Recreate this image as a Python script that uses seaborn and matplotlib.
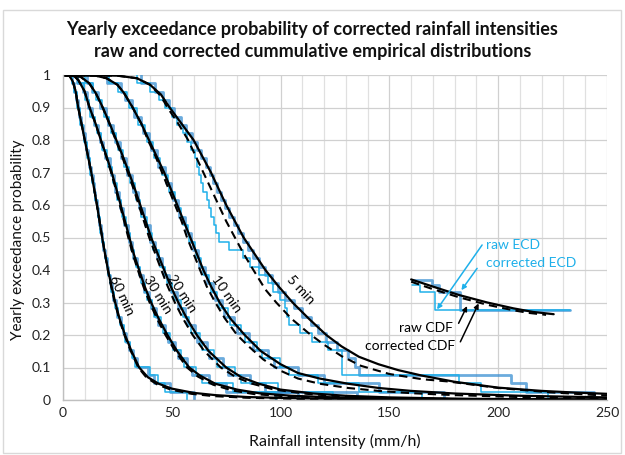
import matplotlib
matplotlib.use("Agg")
import matplotlib.pyplot as plt
import seaborn as sns
from matplotlib.patches import Rectangle
from matplotlib.ticker import MultipleLocator

# ---------------- data ----------------
durations = ["5 min", "10 min", "20 min", "30 min", "60 min"]

# raw CDF (solid) and corrected CDF (dashed): intensity (mm/h) vs exceedance prob.
cdf5_x = [0, 25, 34, 40, 45, 49, 54.5, 60, 64, 68, 71.5, 75, 79, 83, 88, 93, 99, 105.5, 113, 121, 128, 136, 145, 154, 165, 180, 200, 220, 235, 250]
cdf5_y = [1, 0.998, 0.99, 0.97, 0.94, 0.9, 0.85, 0.8, 0.75, 0.7, 0.65, 0.6, 0.55, 0.5, 0.45, 0.4, 0.35, 0.3, 0.25, 0.2, 0.165, 0.133, 0.11, 0.092, 0.075, 0.056, 0.038, 0.028, 0.023, 0.019]
cor5_x = [0, 25, 34, 40, 45, 48, 53, 57.5, 61, 64.5, 68, 71.5, 75, 79, 83, 87.5, 93, 98, 105, 113, 120, 128, 137, 150, 165, 177, 185, 200, 223, 243, 250]
cor5_y = [1, 0.998, 0.99, 0.97, 0.935, 0.9, 0.85, 0.8, 0.75, 0.7, 0.65, 0.6, 0.55, 0.5, 0.45, 0.4, 0.34, 0.3, 0.25, 0.205, 0.17, 0.135, 0.105, 0.08, 0.064, 0.057, 0.05, 0.037, 0.024, 0.016, 0.014]

cdf10_x = [0, 15, 20, 25, 28, 32, 36, 39.5, 43, 46.5, 49.5, 52.5, 55.5, 58.5, 61.5, 64.5, 68, 72, 77, 83.5, 91, 100, 108, 118, 131, 145, 160, 180, 210, 250]
cdf10_y = [1, 0.998, 0.99, 0.97, 0.945, 0.9, 0.85, 0.8, 0.75, 0.7, 0.65, 0.6, 0.55, 0.5, 0.45, 0.4, 0.35, 0.3, 0.25, 0.2, 0.15, 0.11, 0.083, 0.066, 0.05, 0.037, 0.028, 0.02, 0.013, 0.008]
cor10_x = [0, 15, 20, 25, 28, 32, 36, 39, 42.5, 45.5, 48.5, 51.5, 54.5, 57, 60, 63, 66, 70, 74.5, 80, 85.5, 92, 100, 108, 118, 131, 145, 160, 180, 210, 250]
cor10_y = [1, 0.998, 0.99, 0.97, 0.945, 0.9, 0.85, 0.8, 0.75, 0.7, 0.65, 0.6, 0.55, 0.5, 0.45, 0.4, 0.35, 0.3, 0.25, 0.2, 0.164, 0.125, 0.09, 0.066, 0.05, 0.037, 0.028, 0.021, 0.015, 0.009, 0.005]

cdf20_x = [0, 8, 12, 15, 18.3, 21.5, 24.5, 27.5, 30.3, 33, 35.5, 38, 40.5, 43.5, 46.5, 49.5, 53, 57, 61.5, 67, 75, 82, 90, 100, 115, 130, 150, 180, 250]
cdf20_y = [1, 0.995, 0.975, 0.945, 0.9, 0.85, 0.8, 0.75, 0.7, 0.65, 0.6, 0.55, 0.5, 0.45, 0.4, 0.35, 0.3, 0.25, 0.2, 0.15, 0.1, 0.07, 0.05, 0.032, 0.02, 0.013, 0.008, 0.004, 0.001]
cor20_x = [0, 8, 12, 15, 18.2, 21.3, 24.2, 27.1, 29.8, 32.4, 34.8, 37.2, 39.6, 42.4, 45.2, 48.1, 51.4, 55.2, 59.6, 65, 72.5, 79.5, 87, 97, 112, 128, 150, 180, 250]
cor20_y = [1, 0.995, 0.975, 0.945, 0.9, 0.85, 0.8, 0.75, 0.7, 0.65, 0.6, 0.55, 0.5, 0.45, 0.4, 0.35, 0.3, 0.25, 0.2, 0.15, 0.1, 0.07, 0.05, 0.032, 0.019, 0.011, 0.006, 0.003, 0.001]

cdf30_x = [0, 5, 7, 9.9, 12.2, 15, 17.4, 20, 22.4, 24.5, 26.5, 28.5, 30.5, 32.5, 35, 37.5, 40.5, 44, 48, 52.5, 58, 63, 70, 80, 90, 105, 125, 150, 200, 250]
cdf30_y = [1, 0.997, 0.985, 0.95, 0.9, 0.85, 0.8, 0.75, 0.7, 0.65, 0.6, 0.55, 0.5, 0.45, 0.4, 0.35, 0.3, 0.25, 0.2, 0.15, 0.1, 0.075, 0.05, 0.032, 0.021, 0.013, 0.008, 0.005, 0.002, 0.001]
cor30_x = [0, 5, 7, 9.9, 12.2, 15, 17.3, 19.8, 22.1, 24.2, 26.1, 28.1, 30, 32, 34.4, 36.9, 39.8, 43.2, 47.1, 51.6, 57, 62, 69, 78, 88, 103, 123, 150, 200, 250]
cor30_y = [1, 0.997, 0.985, 0.95, 0.9, 0.85, 0.8, 0.75, 0.7, 0.65, 0.6, 0.55, 0.5, 0.45, 0.4, 0.35, 0.3, 0.25, 0.2, 0.15, 0.1, 0.072, 0.047, 0.029, 0.018, 0.011, 0.006, 0.003, 0.001, 0.0005]

cdf60_x = [0, 3, 4.5, 5.8, 7, 8.5, 10, 11.5, 13, 14.3, 15.6, 16.8, 18, 19.3, 20.7, 22.3, 24, 26, 28.5, 31.5, 35, 39, 44, 50, 60, 70, 85, 110, 150, 250]
cdf60_y = [1, 0.997, 0.98, 0.95, 0.9, 0.85, 0.8, 0.75, 0.7, 0.65, 0.6, 0.55, 0.5, 0.45, 0.4, 0.35, 0.3, 0.25, 0.2, 0.15, 0.1, 0.07, 0.05, 0.035, 0.022, 0.015, 0.009, 0.005, 0.002, 0.0]
cor60_x = [0, 3, 4.5, 5.8, 7, 8.5, 10, 11.5, 13, 14.3, 15.6, 16.8, 18, 19.3, 20.6, 22.1, 23.8, 25.8, 28.2, 31.2, 34.6, 38.5, 43.5, 49.5, 59, 69, 84, 110, 150, 250]
cor60_y = [1, 0.997, 0.98, 0.95, 0.9, 0.85, 0.8, 0.75, 0.7, 0.65, 0.6, 0.55, 0.5, 0.45, 0.4, 0.35, 0.3, 0.25, 0.2, 0.15, 0.1, 0.068, 0.047, 0.032, 0.019, 0.012, 0.007, 0.003, 0.001, 0.0]

# empirical samples (39 yearly maxima) for raw ECD and corrected ECD
raw5 = [34, 40, 44, 47, 50, 52.5, 55, 57, 59, 60.5, 61.5, 62.5, 63.5, 64.5, 66, 67, 68, 69.5, 70.5, 71.5, 76.5, 82.5, 86, 90, 94, 96.5, 99.5, 102, 103, 104, 109, 114.5, 122, 128.2, 128.2, 128.2, 182, 192, 223]
corr5 = [36, 42.5, 46, 48.5, 51, 54, 56.5, 59.5, 61.5, 63.5, 65.5, 67.5, 69, 71, 72.5, 74.5, 76.5, 78.5, 80.5, 82.5, 85, 87.5, 90, 93, 96, 99, 102, 106, 110, 114, 117, 121, 126, 131, 134, 136, 206, 213, 244]
raw10 = [21.0, 25.5, 29.2, 30.5, 33.8, 34.6, 37.6, 38.4, 41.3, 42.0, 44.8, 45.5, 48.2, 48.8, 51.3, 51.8, 54.4, 55.0, 57.4, 58.0, 60.6, 61.0, 63.6, 64.2, 67.0, 67.8, 70.8, 71.8, 75.8, 76.8, 81.8, 83.8, 89.2, 91.5, 99.5, 104.0, 117.0, 136.0, 165.0]
corr10 = [20.0, 26.8, 28.3, 31.8, 32.8, 35.8, 36.7, 39.6, 40.5, 43.1, 43.8, 46.7, 47.3, 49.8, 50.4, 52.8, 53.4, 55.9, 56.5, 59.0, 59.6, 62.0, 62.6, 65.3, 66.0, 68.9, 69.8, 73.0, 74.2, 78.5, 80.0, 85.5, 87.5, 94.0, 97.0, 108.0, 120.0, 145.0, 175.0]
raw20 = [10.2, 13.8, 15.0, 17.9, 18.8, 21.2, 22.0, 24.5, 25.1, 27.6, 28.0, 30.3, 30.8, 33.2, 33.7, 35.6, 36.0, 38.4, 38.9, 40.8, 41.5, 43.9, 44.6, 47.0, 47.6, 50.2, 50.9, 54.0, 55.0, 58.0, 59.0, 63.0, 64.0, 69.5, 71.0, 79.0, 82.0, 99.0, 124.0]
corr20 = [10.8, 13.1, 16.2, 17.2, 19.7, 20.5, 23.0, 23.7, 26.0, 26.6, 29.0, 29.5, 31.8, 32.3, 34.5, 35.0, 37.0, 37.5, 39.8, 40.2, 42.5, 43.2, 45.5, 46.2, 48.8, 49.5, 52.3, 53.0, 56.2, 57.0, 60.5, 61.5, 66.0, 67.0, 73.5, 76.0, 86.0, 93.0, 135.0]
raw30 = [7.0, 9.5, 10.3, 12.0, 12.6, 14.8, 15.4, 17.3, 17.8, 20.1, 20.8, 22.6, 23.0, 24.6, 25.0, 26.8, 27.1, 28.8, 29.2, 30.9, 31.2, 32.8, 33.4, 35.4, 35.9, 37.9, 38.8, 41.0, 42.0, 45.0, 45.8, 49.0, 50.5, 54.0, 55.5, 61.0, 64.0, 78.0, 98.0]
corr30 = [6.6, 9.0, 10.8, 11.5, 13.3, 14.2, 16.1, 16.8, 18.6, 19.4, 21.5, 22.0, 23.6, 24.0, 25.7, 26.2, 27.6, 28.2, 29.8, 30.2, 31.7, 32.2, 34.0, 34.8, 36.6, 37.3, 39.4, 40.4, 42.9, 43.8, 46.8, 48.2, 51.4, 52.8, 56.8, 59.5, 67.0, 75.0, 108.0]
raw60 = [4.2, 5.0, 6.3, 6.6, 7.6, 8.0, 9.2, 9.6, 10.8, 11.0, 12.3, 12.6, 13.4, 14.4, 14.7, 15.6, 16.0, 16.9, 17.2, 18.1, 18.9, 19.2, 20.3, 20.6, 21.8, 22.1, 23.5, 24.0, 25.4, 26.0, 27.9, 28.4, 30.8, 31.5, 33.0, 40.0, 43.5, 47.0, 57.0]
corr60 = [4.0, 5.2, 6.1, 6.9, 7.4, 8.3, 9.0, 9.9, 10.5, 11.4, 12.0, 12.9, 13.6, 14.1, 14.9, 15.4, 16.2, 16.7, 17.5, 18.0, 18.6, 19.4, 20.0, 20.9, 21.5, 22.5, 23.2, 24.4, 25.0, 26.5, 27.5, 29.0, 30.3, 32.0, 34.0, 39.0, 42.0, 49.0, 60.0]

# legend sketch
leg_cdf_x = [160, 170, 182, 195, 207, 216, 225.5]
leg_cdf_y = [0.371, 0.349, 0.323, 0.300, 0.282, 0.271, 0.264]
leg_cor_x = [160, 170, 182, 195, 207, 214, 222]
leg_cor_y = [0.364, 0.341, 0.316, 0.293, 0.276, 0.268, 0.262]
leg_raw_ecd_x = [160.4, 164.2, 171.1, 233.2]
leg_raw_ecd_y = [0.354, 0.333, 0.277, 0.277]
leg_cor_ecd_x = [160.4, 169.6, 172.6, 182.6, 233.2]
leg_cor_ecd_y = [0.369, 0.354, 0.333, 0.277, 0.277]

x_ticks = [0, 50, 100, 150, 200, 250]
y_ticks = [0, 0.1, 0.2, 0.3, 0.4, 0.5, 0.6, 0.7, 0.8, 0.9, 1]
y_tick_labels = ["0", "0.1", "0.2", "0.3", "0.4", "0.5", "0.6", "0.7", "0.8", "0.9", "1"]

# ---------------- style ----------------
sns.set_theme(style="white")
plt.rcParams["font.family"] = ["Lato", "DejaVu Sans"]

RAW_BLUE = "#1FB0EA"
COR_BLUE = "#3A8FD2"
BLACK = "#000000"

fig = plt.figure(figsize=(6.25, 4.55), dpi=100)
ax = fig.add_axes([63 / 625, 1 - 400 / 455, (607 - 63) / 625, (400 - 75) / 455])

raw_sets = [raw5, raw10, raw20, raw30, raw60]
cor_sets = [corr5, corr10, corr20, corr30, corr60]
for r, c in zip(raw_sets, cor_sets):
    sns.ecdfplot(x=c, complementary=True, ax=ax, color=COR_BLUE, linewidth=2.0, alpha=0.75)
    sns.ecdfplot(x=r, complementary=True, ax=ax, color=RAW_BLUE, linewidth=1.1)

solid = [(cdf5_x, cdf5_y), (cdf10_x, cdf10_y), (cdf20_x, cdf20_y), (cdf30_x, cdf30_y), (cdf60_x, cdf60_y)]
dashed = [(cor5_x, cor5_y), (cor10_x, cor10_y), (cor20_x, cor20_y), (cor30_x, cor30_y), (cor60_x, cor60_y)]
for (xd, yd) in dashed:
    ax.plot(xd, yd, color=BLACK, lw=1.5, dashes=(4, 2.5))
for (xs, ys) in solid:
    sns.lineplot(x=xs, y=ys, ax=ax, color=BLACK, linewidth=1.6, sort=False, estimator=None)

# legend sketch
ax.step(leg_cor_ecd_x, leg_cor_ecd_y, where="post", color=COR_BLUE, lw=2.0, alpha=0.75)
ax.step(leg_raw_ecd_x, leg_raw_ecd_y, where="post", color=RAW_BLUE, lw=1.1)
ax.plot(leg_cor_x, leg_cor_y, color=BLACK, lw=1.5, dashes=(4, 2.5))
ax.plot(leg_cdf_x, leg_cdf_y, color=BLACK, lw=1.6)

fs = 10
ax.text(194.6, 0.477, "raw ECD", color=RAW_BLUE, fontsize=fs, ha="left", va="center")
ax.text(194.6, 0.422, "corrected ECD", color=RAW_BLUE, fontsize=fs, ha="left", va="center")
ax.text(179.4, 0.223, "raw CDF", color=BLACK, fontsize=fs, ha="right", va="center")
ax.text(180.3, 0.167, "corrected CDF", color=BLACK, fontsize=fs, ha="right", va="center")

def arrow(x0, y0, x1, y1, col):
    ax.annotate("", xy=(x1, y1), xytext=(x0, y0),
                arrowprops=dict(arrowstyle="-|>", color=col, lw=1.1, mutation_scale=7,
                                shrinkA=0, shrinkB=0))

arrow(192.6, 0.477, 171.9, 0.279, RAW_BLUE)
arrow(190.3, 0.405, 183.1, 0.338, RAW_BLUE)
arrow(181.8, 0.236, 185.7, 0.289, BLACK)
arrow(182.6, 0.179, 191.0, 0.297, BLACK)

# duration labels
lab_x = [109, 75.3, 54.6, 43.4, 27]
lab_y = [0.34, 0.326, 0.328, 0.323, 0.323]
lab_rot = [-47, -55, -57, -58, -65]
for t, lx, ly, rot in zip(durations, lab_x, lab_y, lab_rot):
    ax.text(lx, ly, t, fontsize=fs, rotation=rot, ha="center", va="center",
            rotation_mode="anchor", color=BLACK)

# axes
ax.set_xlim(0, 250)
ax.set_ylim(0, 1)
ax.set_xticks(x_ticks)
ax.set_xticklabels([str(v) for v in x_ticks])
ax.xaxis.set_minor_locator(MultipleLocator(10))
ax.set_yticks(y_ticks)
ax.set_yticklabels(y_tick_labels)
ax.grid(which="major", axis="both", color="#D0D0D0", lw=0.9)
ax.grid(which="minor", axis="x", color="#E0E0E0", lw=0.9)
ax.set_axisbelow(True)
ax.tick_params(axis="both", which="both", length=0, labelsize=10, colors="#222222")
ax.tick_params(axis="y", pad=9)
ax.tick_params(axis="x", pad=5)
for s in ["top", "right"]:
    ax.spines[s].set_visible(False)
for s in ["left", "bottom"]:
    ax.spines[s].set_color("#BFBFBF")
    ax.spines[s].set_linewidth(1.0)
ax.set_xlabel("")
ax.set_ylabel("")

fig.text(0.5, 1 - 29 / 455, "Yearly exceedance probability of corrected rainfall intensities",
         ha="center", va="center", fontsize=13, fontweight="bold", color="#111111")
fig.text(0.5, 1 - 51 / 455, "raw and corrected cummulative empirical distributions",
         ha="center", va="center", fontsize=13, fontweight="bold", color="#111111")
fig.text(335 / 625, 1 - 441 / 455, "Rainfall intensity (mm/h)", ha="center", va="center",
         fontsize=11.5, color="#111111")
fig.text(18 / 625, 1 - 240 / 455, "Yearly exceedance probability", ha="center", va="center",
         fontsize=11, rotation=90, color="#111111")

fig.patches.append(Rectangle((3 / 625, 2 / 455), 618 / 625, 443 / 455, transform=fig.transFigure,
                             fill=False, ec="#D9D9D9", lw=1.0))

fig.savefig("out.png", dpi=100)
